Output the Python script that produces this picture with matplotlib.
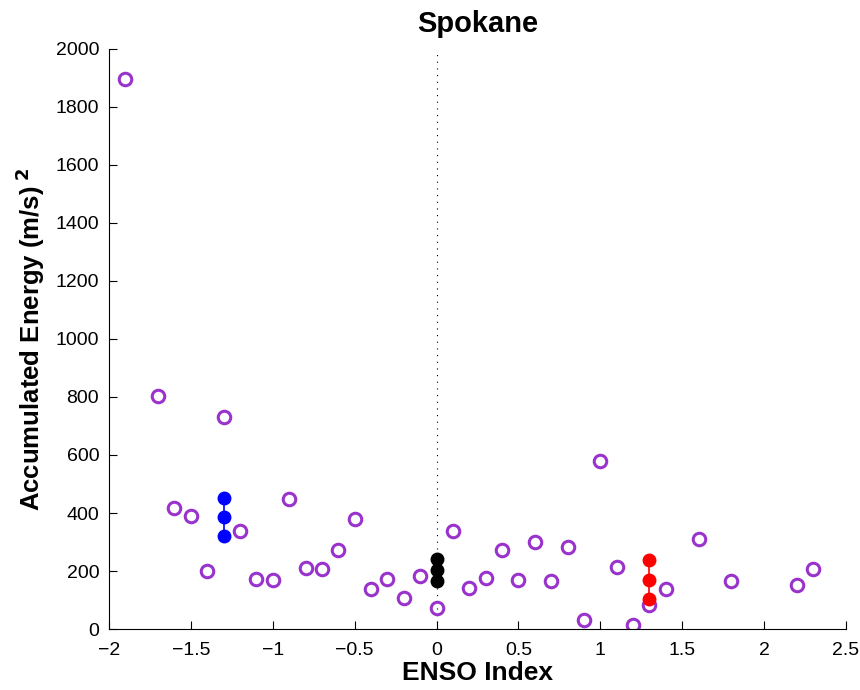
import matplotlib
matplotlib.use('Agg')
import matplotlib.pyplot as plt

plt.rcParams['font.family'] = ['Liberation Sans', 'DejaVu Sans']

# ENSO index vs accumulated energy, one value per year
enso = [-1.9, -1.7, -1.3, -1.6, -1.5, -1.4, -1.2, -1.1, -1.0, -0.9,
        -0.8, -0.7, -0.6, -0.5, -0.4, -0.3, -0.2, -0.1, 0.0, 0.1,
        0.2, 0.3, 0.4, 0.5, 0.6, 0.7, 0.8, 0.9, 1.0, 1.1,
        1.2, 1.3, 1.4, 1.6, 1.8, 2.2, 2.3]
energy = [1895, 803, 731, 417, 390, 200, 338, 172, 169, 448,
          210, 207, 272, 379, 138, 172, 107, 183, 72, 338,
          141, 176, 272, 169, 300, 166, 283, 31, 579, 214,
          14, 83, 138, 310, 166, 152, 207]

# group summaries (upper, mean, lower)
la_nina_x = -1.3
la_nina = [452, 386, 321]
neutral_x = 0.0
neutral = [241, 203, 166]
el_nino_x = 1.3
el_nino = [238, 169, 103]

fig = plt.figure(figsize=(8.6, 6.9), dpi=100)
ax = fig.add_axes([0.1267, 0.0884, 0.857, 0.8406])

ax.axvline(0, color='black', linestyle=(0, (1, 5)), linewidth=0.8, zorder=1)

ax.plot(enso, energy, 'o', markerfacecolor='none', markeredgecolor='#9933CC',
        markeredgewidth=2.2, markersize=9, linestyle='none', zorder=2)

for gx, vals, c in [(la_nina_x, la_nina, 'blue'), (neutral_x, neutral, 'black'),
                    (el_nino_x, el_nino, 'red')]:
    ax.plot([gx] * len(vals), vals, '-o', color=c, markersize=9, linewidth=1.2, zorder=3)

ax.set_xlim(-2, 2.5)
ax.set_ylim(0, 2000)
ax.set_xticks([-2, -1.5, -1, -0.5, 0, 0.5, 1, 1.5, 2, 2.5])
ax.set_xticklabels(['\u22122', '\u22121.5', '\u22121', '\u22120.5', '0', '0.5', '1', '1.5', '2', '2.5'])
ax.set_yticks(range(0, 2001, 200))

ax.spines['top'].set_visible(False)
ax.spines['right'].set_visible(False)
ax.tick_params(direction='in', length=6, labelsize=14)
ax.tick_params(axis='x', pad=9)
ax.tick_params(axis='y', pad=7)

ax.set_title('Spokane', fontsize=21, fontweight='bold', pad=12)
ax.set_xlabel('ENSO Index', fontsize=19, fontweight='bold', labelpad=2)
ax.set_ylabel(r'Accumulated Energy (m/s)$^{\ \mathbf{2}}$', fontsize=18.5, fontweight='bold', labelpad=6)

fig.savefig('out.png', dpi=100)
